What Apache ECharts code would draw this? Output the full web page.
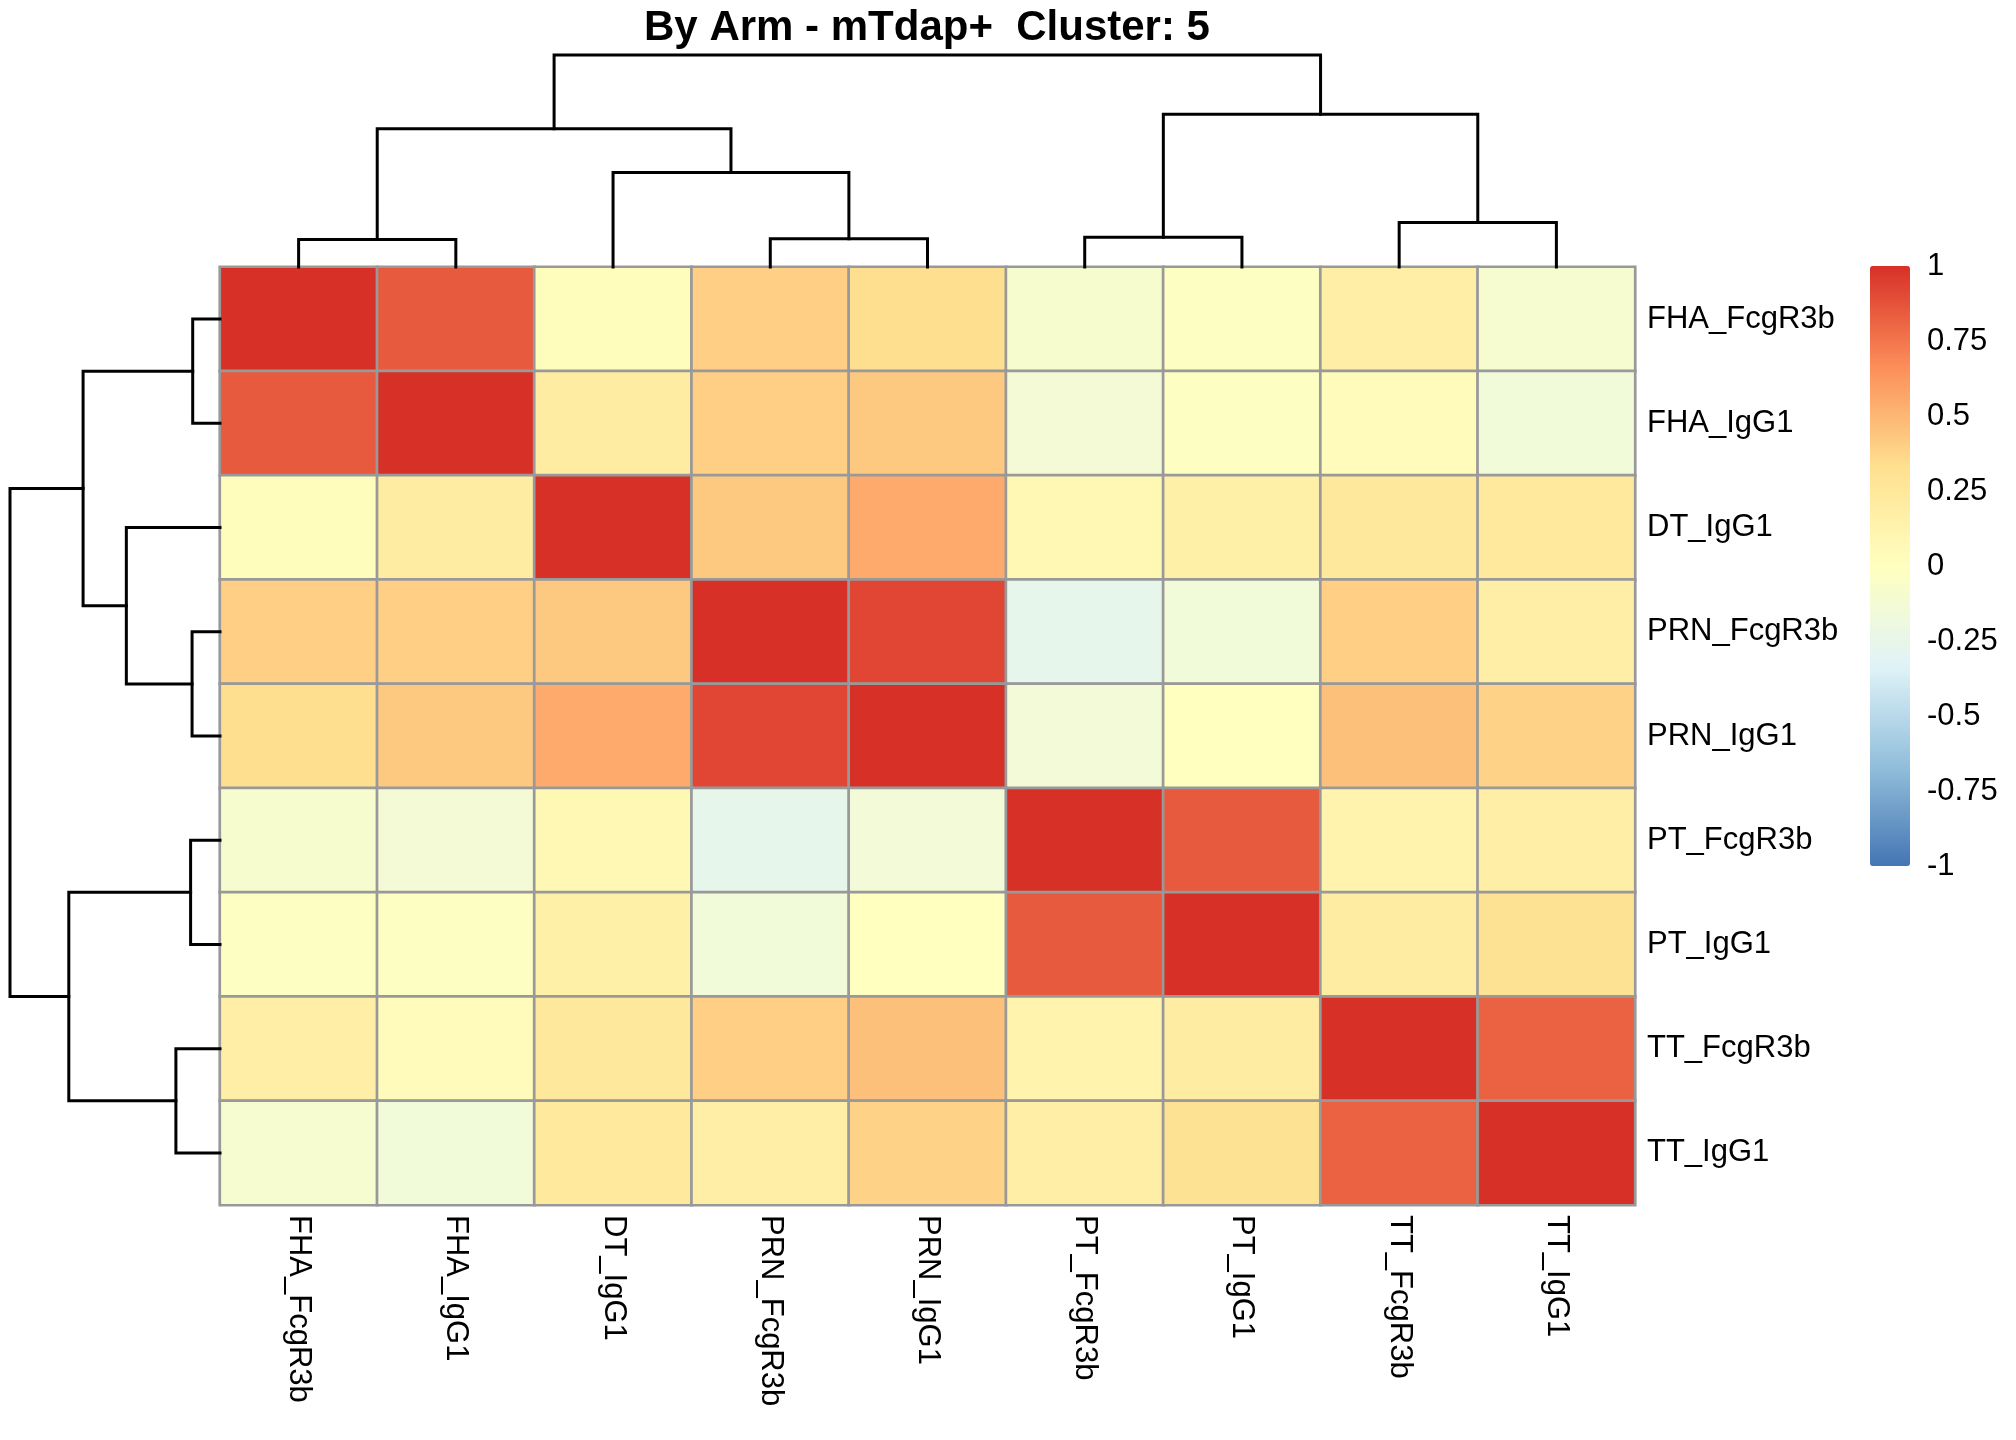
<!DOCTYPE html>
<html><head><meta charset="utf-8">
<script src="https://cdn.jsdelivr.net/npm/echarts@6/dist/echarts.min.js"></script>
<style>html,body{margin:0;padding:0;background:#fff}#c{width:2016px;height:1440px}</style>
</head><body><div id="c"></div>
<script>
// ---- data ----
const labels = ['FHA_FcgR3b','FHA_IgG1','DT_IgG1','PRN_FcgR3b','PRN_IgG1','PT_FcgR3b','PT_IgG1','TT_FcgR3b','TT_IgG1'];
const rowFHA_FcgR3b = [1.00, 0.85, 0.02, 0.40, 0.34, -0.09, -0.02, 0.18, -0.10];
const rowFHA_IgG1   = [0.85, 1.00, 0.20, 0.40, 0.43, -0.13, -0.02, 0.03, -0.15];
const rowDT_IgG1    = [0.02, 0.20, 1.00, 0.43, 0.55, 0.07, 0.16, 0.25, 0.24];
const rowPRN_FcgR3b = [0.40, 0.40, 0.43, 1.00, 0.92, -0.26, -0.15, 0.40, 0.18];
const rowPRN_IgG1   = [0.34, 0.43, 0.55, 0.92, 1.00, -0.14, 0.00, 0.46, 0.39];
const rowPT_FcgR3b  = [-0.09, -0.13, 0.07, -0.26, -0.14, 1.00, 0.85, 0.13, 0.18];
const rowPT_IgG1    = [-0.02, -0.02, 0.16, -0.15, 0.00, 0.85, 1.00, 0.20, 0.31];
const rowTT_FcgR3b  = [0.18, 0.03, 0.25, 0.40, 0.46, 0.13, 0.20, 1.00, 0.82];
const rowTT_IgG1    = [-0.10, -0.15, 0.24, 0.18, 0.39, 0.18, 0.31, 0.82, 1.00];
// hclust-style merges: negative = leaf (1-based), positive = earlier merge; third = relative height
const merges = [[-1,-2,0.13],[-4,-5,0.133],[-6,-7,0.14],[-8,-9,0.21],[-3,2,0.446],[1,5,0.652],[3,4,0.72],[6,7,1.0]];
const legendTicks = [-1,-0.75,-0.5,-0.25,0,0.25,0.5,0.75,1];
const palette = ['#4575B4','#91BFDB','#E0F3F8','#FFFFBF','#FEE090','#FC8D59','#D73027'];
const titleText = 'By Arm - mTdap+  Cluster: 5';

// ---- build ----
const matrix = [rowFHA_FcgR3b,rowFHA_IgG1,rowDT_IgG1,rowPRN_FcgR3b,rowPRN_IgG1,rowPT_FcgR3b,rowPT_IgG1,rowTT_FcgR3b,rowTT_IgG1];
const heatData = [];
matrix.forEach((row,i)=>row.forEach((v,j)=>heatData.push([j,i,v])));

function dendroSegments(m){
  const pos=[], hgt=[], segs=[];
  const gx=k=>k<0?-k-1:pos[k-1];
  const gh=k=>k<0?0:hgt[k-1];
  m.forEach(([a,b,h])=>{
    const xa=gx(a), xb=gx(b), ha=gh(a), hb=gh(b);
    segs.push([[xa,ha],[xa,h],[xb,h],[xb,hb]]);
    pos.push((xa+xb)/2); hgt.push(h);
  });
  return segs;
}
const segs = dendroSegments(merges);
const maxH = Math.max(...merges.map(d=>d[2]));
const FONT = "'Liberation Sans', Arial, sans-serif";

const HM = {left:220, top:267, width:1415, height:938};
const chart = echarts.init(document.getElementById('c'), null, {renderer:'canvas'});
chart.setOption({
  backgroundColor:'#fff',
  animation:false,
  textStyle:{fontFamily:FONT},
  title:{text:titleText, left:927, top:7, padding:0, textAlign:'center',
    textStyle:{fontSize:42, fontWeight:'bold', color:'#000', fontFamily:FONT}},
  grid:[
    {left:HM.left, top:HM.top, width:HM.width, height:HM.height},
    {left:HM.left, top:55, width:HM.width, height:HM.top-55},
    {left:10, top:HM.top, width:HM.left-10, height:HM.height},
    {left:1870, top:266, width:40, height:600}
  ],
  xAxis:[
    {type:'category', data:labels, gridIndex:0, position:'bottom',
     axisLine:{show:false}, axisTick:{show:false}, splitLine:{show:false},
     axisLabel:{rotate:-90, margin:10, fontSize:31, color:'#000', fontFamily:FONT, interval:0}},
    {type:'value', gridIndex:1, min:-0.5, max:labels.length-0.5, show:false},
    {type:'value', gridIndex:2, min:0, max:maxH, inverse:true, show:false},
    {type:'value', gridIndex:3, min:0, max:1, show:false}
  ],
  yAxis:[
    {type:'category', data:labels, gridIndex:0, inverse:true, position:'right',
     axisLine:{show:false}, axisTick:{show:false}, splitLine:{show:false},
     axisLabel:{margin:12, fontSize:31, color:'#000', fontFamily:FONT, interval:0}},
    {type:'value', gridIndex:1, min:0, max:maxH, show:false},
    {type:'value', gridIndex:2, min:-0.5, max:labels.length-0.5, inverse:true, show:false},
    {type:'value', gridIndex:3, min:legendTicks[0], max:legendTicks[legendTicks.length-1],
     interval:legendTicks[1]-legendTicks[0], position:'right',
     axisLine:{show:false}, axisTick:{show:false}, splitLine:{show:false},
     axisLabel:{margin:17, fontSize:31, color:'#000', fontFamily:FONT}}
  ],
  visualMap:{type:'continuous', min:-1, max:1, seriesIndex:0, dimension:2,
    inRange:{color:palette}, calculable:false, realtime:false,
    itemWidth:40, itemHeight:600, left:1870, top:266, padding:0, text:null, hoverLink:false},
  series:[
    {type:'heatmap', xAxisIndex:0, yAxisIndex:0, data:heatData, silent:true,
     itemStyle:{borderColor:'#999999', borderWidth:2.7}, emphasis:{disabled:true}},
    {type:'lines', coordinateSystem:'cartesian2d', xAxisIndex:1, yAxisIndex:1, polyline:true, silent:true, clip:false,
     lineStyle:{color:'#000', width:3, opacity:1, cap:'square', join:'miter'},
     data:segs.map(c=>({coords:c}))},
    {type:'lines', coordinateSystem:'cartesian2d', xAxisIndex:2, yAxisIndex:2, polyline:true, silent:true, clip:false,
     lineStyle:{color:'#000', width:3, opacity:1, cap:'square', join:'miter'},
     data:segs.map(c=>({coords:c.map(p=>[p[1],p[0]])}))}
  ]
});
</script></body></html>
